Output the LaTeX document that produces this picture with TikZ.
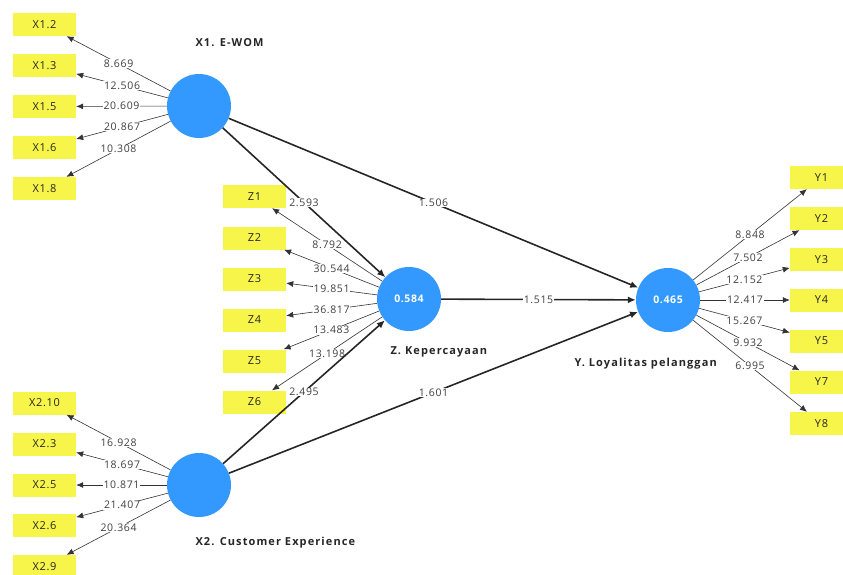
\documentclass[tikz,border=0pt]{standalone}
\usepackage{fontspec}
\setmainfont[LetterSpace=6]{Open Sans}
\newfontfamily\ttlfont[LetterSpace=10]{Open Sans}
\usetikzlibrary{arrows.meta}
\definecolor{lvblue}{HTML}{3399FF}
\definecolor{mvyellow}{HTML}{F7F54A}
\begin{document}
\begin{tikzpicture}[x=1pt,y=-1pt,
  lv/.style={circle, fill=lvblue, minimum size=64pt, inner sep=0pt, text=white, font=\bfseries\fontsize{10.5}{12}\selectfont},
  mv/.style={rectangle, fill=mvyellow, minimum width=63pt, minimum height=23pt, inner sep=0pt, text=black!85, font=\fontsize{11}{12}\selectfont},
  ld/.style={-{Latex[length=7pt,width=6pt]}, line width=0.6pt, draw=black!80},
  pth/.style={-{Latex[length=8pt,width=7pt]}, line width=1.6pt, draw=black!85},
  lbl/.style={fill=white, inner sep=0.6pt, text=black!75, font=\fontsize{10.5}{11}\selectfont},
  ttl/.style={anchor=west, text=black!85, font=\ttlfont\bfseries\fontsize{11}{12}\selectfont}]
\useasboundingbox (0,0) rectangle (843,574);
% latent variables
\node[lv] (X1) at (199,106) {};
\node[lv] (X2) at (199,485) {};
\node[lv] (Z) at (409,299) {0.584};
\node[lv] (Y) at (668,300) {0.465};
% titles
\node[ttl] (tX1) at (192,43) {X1. E-WOM};
\node[ttl] (tZ) at (387,352) {Z. Kepercayaan};
\node[ttl] (tY) at (571,364) {Y. Loyalitas pelanggan};
\node[ttl] (tX2) at (192,543) {X2. Customer Experience};
% X1 indicators
\node[mv] (x12) at (44.5,24.5) {X1.2};
\node[mv] (x13) at (44.5,65.5) {X1.3};
\node[mv] (x15) at (44.5,106.5) {X1.5};
\node[mv] (x16) at (44.5,147.5) {X1.6};
\node[mv] (x18) at (44.5,188.5) {X1.8};
% X2 indicators
\node[mv] (x210) at (44.5,403) {X2.10};
\node[mv] (x23) at (44.5,444) {X2.3};
\node[mv] (x25) at (44.5,485) {X2.5};
\node[mv] (x26) at (44.5,525.5) {X2.6};
\node[mv] (x29) at (44.5,566.5) {X2.9};
% Z indicators
\node[mv] (z1) at (254.5,196.5) {Z1};
\node[mv] (z2) at (254.5,238) {Z2};
\node[mv] (z3) at (254.5,279) {Z3};
\node[mv] (z4) at (254.5,320) {Z4};
\node[mv] (z5) at (254.5,361) {Z5};
\node[mv] (z6) at (254.5,402) {Z6};
% Y indicators
\node[mv] (y1) at (821.5,177.5) {Y1};
\node[mv] (y2) at (821.5,218.5) {Y2};
\node[mv] (y3) at (821.5,259.5) {Y3};
\node[mv] (y4) at (821.5,300) {Y4};
\node[mv] (y5) at (821.5,341) {Y5};
\node[mv] (y7) at (821.5,382) {Y7};
\node[mv] (y8) at (821.5,423.5) {Y8};
% loadings X1
\draw[ld] (X1) -- node[lbl] {8.669} (x12);
\draw[ld] (X1) -- node[lbl] {12.506} (x13);
\draw[ld] (X1) -- node[lbl] {20.609} (x15);
\draw[ld] (X1) -- node[lbl] {20.867} (x16);
\draw[ld] (X1) -- node[lbl] {10.308} (x18);
% loadings X2
\draw[ld] (X2) -- node[lbl] {16.928} (x210);
\draw[ld] (X2) -- node[lbl] {18.697} (x23);
\draw[ld] (X2) -- node[lbl] {10.871} (x25);
\draw[ld] (X2) -- node[lbl] {21.407} (x26);
\draw[ld] (X2) -- node[lbl] {20.364} (x29);
% loadings Z
\draw[ld] (Z) -- node[lbl] {8.792} (z1);
\draw[ld] (Z) -- node[lbl] {30.544} (z2);
\draw[ld] (Z) -- node[lbl] {19.851} (z3);
\draw[ld] (Z) -- node[lbl] {36.817} (z4);
\draw[ld] (Z) -- node[lbl] {13.483} (z5);
\draw[ld] (Z) -- node[lbl] {13.198} (z6);
% loadings Y
\draw[ld] (Y) -- node[lbl] {8.848} (y1);
\draw[ld] (Y) -- node[lbl] {7.502} (y2);
\draw[ld] (Y) -- node[lbl] {12.152} (y3);
\draw[ld] (Y) -- node[lbl] {12.417} (y4);
\draw[ld] (Y) -- node[lbl] {15.267} (y5);
\draw[ld] (Y) -- node[lbl] {9.932} (y7);
\draw[ld] (Y) -- node[lbl] {6.995} (y8);
% structural paths
\draw[pth] (X1) -- node[lbl] {2.593} (Z);
\draw[pth] (X2) -- node[lbl] {2.495} (Z);
\draw[pth] (X1) -- node[lbl] {1.506} (Y);
\draw[pth] (Z) -- node[lbl] {1.515} (Y);
\draw[pth] (X2) -- node[lbl] {1.601} (Y);
\end{tikzpicture}
\end{document}
